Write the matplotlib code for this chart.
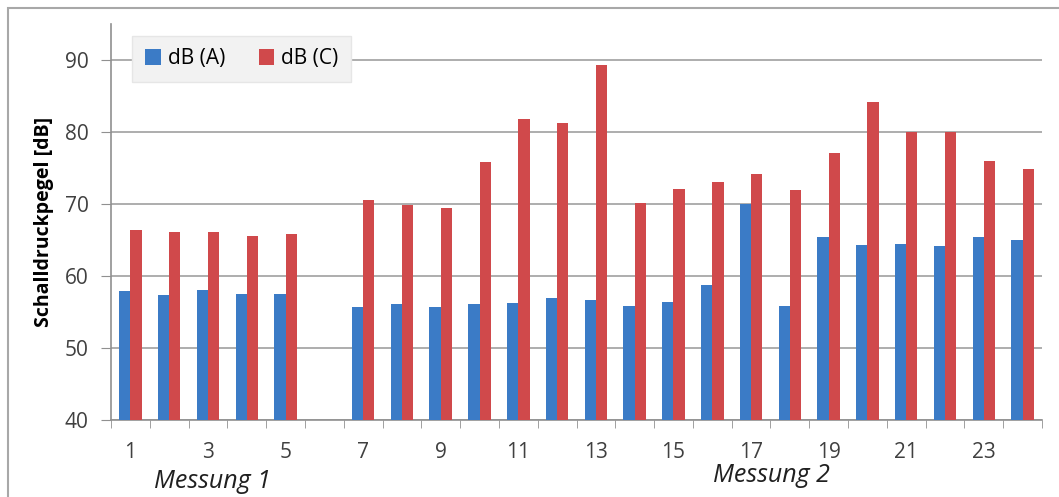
import matplotlib.pyplot as plt
import numpy as np
from matplotlib.patches import Rectangle

# Messpunkte 1..24 (Nr. 6 ohne Messung)
nummern = list(range(1, 25))
db_a = [57.9, 57.3, 58.0, 57.5, 57.5, np.nan, 55.7, 56.1, 55.7, 56.1, 56.3, 57.0,
        56.6, 55.9, 56.4, 58.8, 70.0, 55.9, 65.4, 64.3, 64.4, 64.1, 65.4, 65.0]
db_c = [66.4, 66.1, 66.1, 65.5, 65.9, np.nan, 70.6, 69.9, 69.4, 75.8, 81.8, 81.3,
        89.3, 70.1, 72.1, 73.0, 74.2, 71.9, 77.1, 84.2, 80.0, 80.0, 76.0, 74.9]
tick_labels = [str(n) if n % 2 == 1 else '' for n in nummern]
gruppen = [('Messung 1', 0.201, 0.006), ('Messung 2', 0.728, 0.018)]

blau = '#3B7BC6'
rot = '#D0494B'

plt.rcParams['font.family'] = ['Open Sans', 'DejaVu Sans']

fig = plt.figure(figsize=(10.59, 4.97), dpi=100)
ax = fig.add_axes([111/1059, 1 - 420/497, 931/1059, 396/497])

x = np.array(nummern)
w = 0.29
ax.bar(x - w/2, db_a, width=w, color=blau, label='dB (A)', zorder=3)
ax.bar(x + w/2, db_c, width=w, color=rot, label='dB (C)', zorder=3)

ax.set_xlim(0.5, 24.5)
ax.set_ylim(40, 95)
ax.set_yticks([40, 50, 60, 70, 80, 90])
ax.yaxis.grid(True, color='#A0A0A0', linewidth=1.2, zorder=0)

ax.set_xticks(x)
ax.set_xticklabels(tick_labels)
ax.set_xticks(np.arange(0.5, 25, 1), minor=True)
ax.tick_params(axis='x', which='major', length=0, pad=16, labelsize=15, colors='#404040')
ax.tick_params(axis='x', which='minor', length=6, color='#909090')
ax.tick_params(axis='y', length=7, color='#909090', labelsize=15, colors='#404040', pad=9)

for s in ['top', 'right']:
    ax.spines[s].set_visible(False)
for s in ['left', 'bottom']:
    ax.spines[s].set_color('#909090')
    ax.spines[s].set_linewidth(1.2)

ax.set_ylabel('Schalldruckpegel [dB]', fontsize=14, fontweight='bold', labelpad=8)

leg = ax.legend(loc='upper left', bbox_to_anchor=(0.023, 0.97), ncol=2, fontsize=15,
                frameon=True, fancybox=False, facecolor='#F2F2F2', edgecolor='#E6E6E6',
                framealpha=1, handlelength=0.75, handleheight=0.75, handletextpad=0.35,
                columnspacing=1.6, borderpad=0.6, borderaxespad=0)
leg.set_zorder(5)
# Legendenrahmen etwas breiter wie im Original
leg._legend_box.sep = 8
leg.borderpad = 0.6

for text, xf, yf in gruppen:
    fig.text(xf, yf, text, fontsize=18, style='italic', ha='center', va='bottom', color='#202020')

# Rahmen um das Diagramm
fig.patches.append(Rectangle((8/1059, -0.1), 1.2, 1.1 - 8/497, transform=fig.transFigure,
                             fill=False, edgecolor='#A8A8A8', linewidth=1.5))

fig.savefig('out.png', dpi=100)
